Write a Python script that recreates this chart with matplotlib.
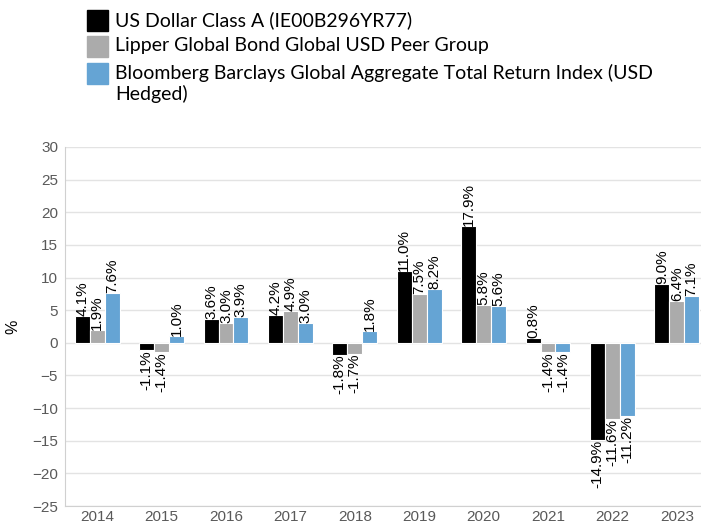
import numpy as np
import matplotlib
matplotlib.use("Agg")
import matplotlib.pyplot as plt
from matplotlib.patches import Rectangle

# data
years = ["2014", "2015", "2016", "2017", "2018", "2019", "2020", "2021", "2022", "2023"]
fund = [4.1, -1.1, 3.6, 4.2, -1.8, 11.0, 17.9, 0.8, -14.9, 9.0]
peers = [1.9, -1.4, 3.0, 4.9, -1.7, 7.5, 5.8, -1.4, -11.6, 6.4]
index = [7.6, 1.0, 3.9, 3.0, 1.8, 8.2, 5.6, -1.4, -11.2, 7.1]

names = ["US Dollar Class A (IE00B296YR77)",
         "Lipper Global Bond Global USD Peer Group",
         "Bloomberg Barclays Global Aggregate Total Return Index (USD\nHedged)"]
colors = ["#000000", "#ABABAB", "#65A4D4"]

plt.rcParams["font.family"] = ["Liberation Sans", "DejaVu Sans"]

fig = plt.figure(figsize=(7.01, 5.26), dpi=100)
ax = fig.add_axes([65 / 701, 1 - 506 / 526, 644 / 701, 359 / 526])

x = np.arange(len(years))
w = 0.232
for i, (vals, col) in enumerate(zip([fund, peers, index], colors)):
    pos = x + (i - 1) * w
    ax.bar(pos, vals, width=w, color=col, edgecolor="white", linewidth=0.8, zorder=3)
    for xp, v in zip(pos, vals):
        ax.text(xp, v, "%.1f%%" % v, rotation=90, ha="center",
                va="bottom" if v >= 0 else "top", fontsize=11, color="black", zorder=4)

ax.set_xlim(-0.5, len(years) - 0.5)
ax.set_ylim(-25, 30)
ax.set_yticks(range(-25, 31, 5))
ax.set_xticks(x)
ax.set_xticklabels(years)
ax.tick_params(axis="both", length=0, labelsize=11, colors="#595959")
ax.tick_params(axis="x", pad=3)
ax.tick_params(axis="y", pad=5)
ax.grid(axis="y", color="#E3E3E3", linewidth=1, zorder=0)
for s in ["top", "right"]:
    ax.spines[s].set_visible(False)
ax.spines["left"].set_color("#D0D0D0")
ax.spines["bottom"].set_color("#D0D0D0")
ax.set_ylabel("%", fontsize=11.5, color="black")
ax.yaxis.set_label_coords(-0.070, 0.5)

# legend, drawn by hand so the square sits on the first text line
rows_y = [21, 47, 74]
for yy, col, name in zip(rows_y, colors, names):
    fig.patches.append(Rectangle((87 / 701, 1 - (yy + 10) / 526), 21 / 701, 21 / 526,
                                 transform=fig.transFigure, color=col))
    fig.text(115 / 701, 1 - (yy - 10) / 526, name, fontsize=14, family=["Lato", "DejaVu Sans"],
             va="top", ha="left", linespacing=1.2)

fig.savefig("out.png", dpi=100)
